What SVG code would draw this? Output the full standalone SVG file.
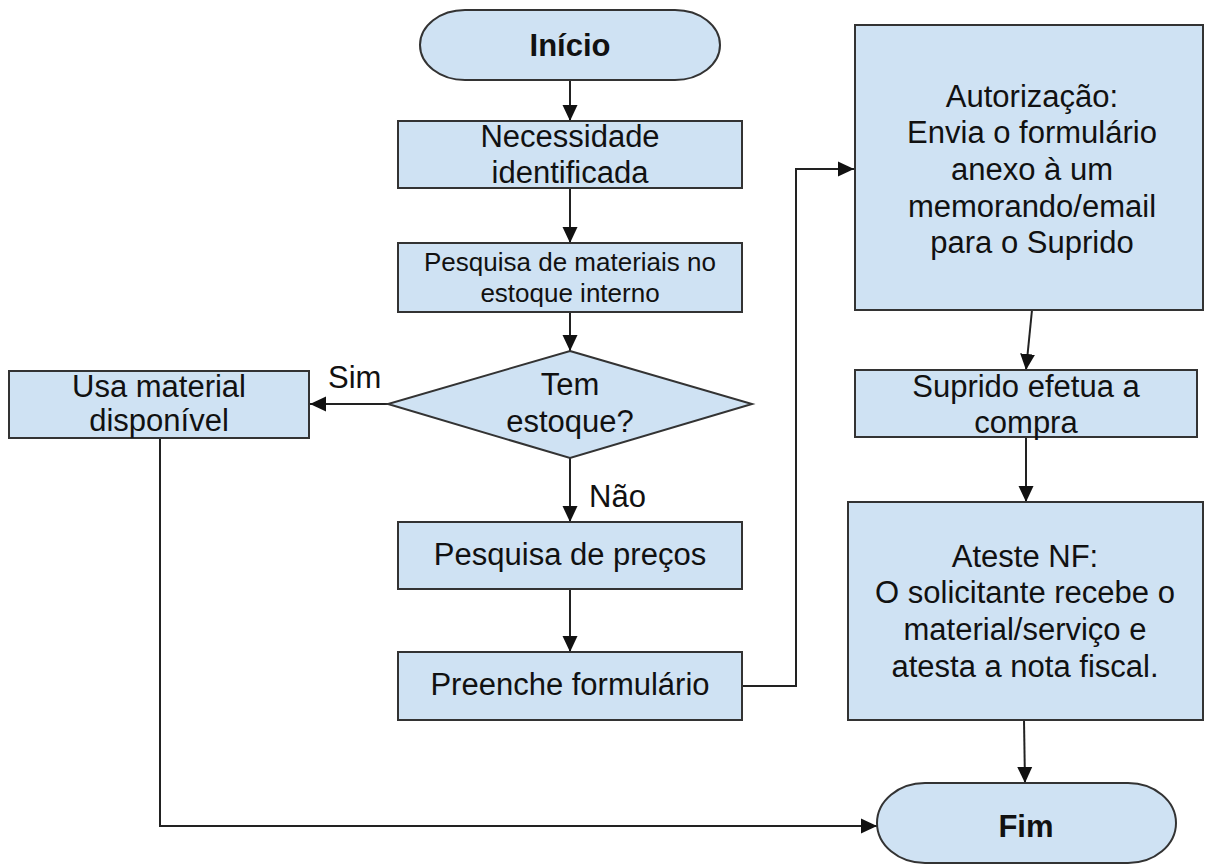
<svg xmlns="http://www.w3.org/2000/svg" width="1205" height="866" viewBox="0 0 1205 866">
<defs>
<style>
.box{fill:#cfe2f3;stroke:#333;stroke-width:2}
.t{font-family:"Liberation Sans",Arial,sans-serif;font-size:31px;fill:#111;text-anchor:middle}
.s{font-size:26px}
.b{font-weight:bold}
.l{text-anchor:start}
.c{fill:none;stroke:#222;stroke-width:2;marker-end:url(#ah)}
</style>
<marker id="ah" markerUnits="userSpaceOnUse" markerWidth="17" markerHeight="17" refX="16" refY="8.5" orient="auto">
<path d="M0,1 L16,8.5 L0,16 z" fill="#111"/>
</marker>
</defs>
<rect width="1205" height="866" fill="#fff"/>
<g id="connectors">
<path class="c" d="M570,80 V121"/>
<path class="c" d="M570,188 V243"/>
<path class="c" d="M570,312 V351"/>
<path class="c" d="M388,404 H310"/>
<path class="c" d="M570,458 V522"/>
<path class="c" d="M570,589 V652"/>
<path class="c" d="M742,686 H796 V169 H854"/>
<path class="c" d="M1032,310 L1026,370"/>
<path class="c" d="M1026,437 V502"/>
<path class="c" d="M1024,720 L1025,783"/>
<path class="c" d="M160,438 V826 H877"/>
<text class="t l" x="328" y="388">Sim</text>
<text class="t l" x="589" y="507">Não</text>
</g>
<g id="inicio">
<rect class="box" x="420" y="10" width="300" height="70" rx="45" ry="35"/>
<text class="t b" x="570" y="56">Início</text>
</g>
<g id="necessidade">
<rect class="box" x="398" y="121" width="344" height="67"/>
<text class="t" x="570" y="147">Necessidade</text>
<text class="t" x="570" y="183">identificada</text>
</g>
<g id="pesquisa-materiais">
<rect class="box" x="398" y="243" width="344" height="69"/>
<text class="t s" x="570" y="271">Pesquisa de materiais no</text>
<text class="t s" x="570" y="302">estoque interno</text>
</g>
<g id="tem-estoque">
<polygon class="box" points="570,351 752,404 570,458 388,404"/>
<text class="t" x="570" y="395">Tem</text>
<text class="t" x="570" y="432">estoque?</text>
</g>
<g id="usa-material">
<rect class="box" x="9" y="371" width="300" height="67"/>
<text class="t" x="159" y="397">Usa material</text>
<text class="t" x="159" y="431">disponível</text>
</g>
<g id="pesquisa-precos">
<rect class="box" x="398" y="522" width="344" height="67"/>
<text class="t" x="570" y="565">Pesquisa de preços</text>
</g>
<g id="preenche">
<rect class="box" x="398" y="652" width="344" height="68"/>
<text class="t" x="570" y="695">Preenche formulário</text>
</g>
<g id="autorizacao">
<rect class="box" x="855" y="25" width="348" height="285"/>
<text class="t" x="1032" y="107">Autorização:</text>
<text class="t" x="1032" y="143">Envia o formulário</text>
<text class="t" x="1032" y="180">anexo à um</text>
<text class="t" x="1032" y="217">memorando/email</text>
<text class="t" x="1032" y="253">para o Suprido</text>
</g>
<g id="suprido">
<rect class="box" x="855" y="370" width="342" height="67"/>
<text class="t" x="1026" y="397">Suprido efetua a</text>
<text class="t" x="1026" y="433">compra</text>
</g>
<g id="ateste">
<rect class="box" x="848" y="502" width="355" height="218"/>
<text class="t" x="1025" y="567">Ateste NF:</text>
<text class="t" x="1025" y="603">O solicitante recebe o</text>
<text class="t" x="1025" y="640">material/serviço e</text>
<text class="t" x="1025" y="677">atesta a nota fiscal.</text>
</g>
<g id="fim">
<rect class="box" x="877" y="783" width="299" height="80" rx="48" ry="40"/>
<text class="t b" x="1026" y="837">Fim</text>
</g>
</svg>
